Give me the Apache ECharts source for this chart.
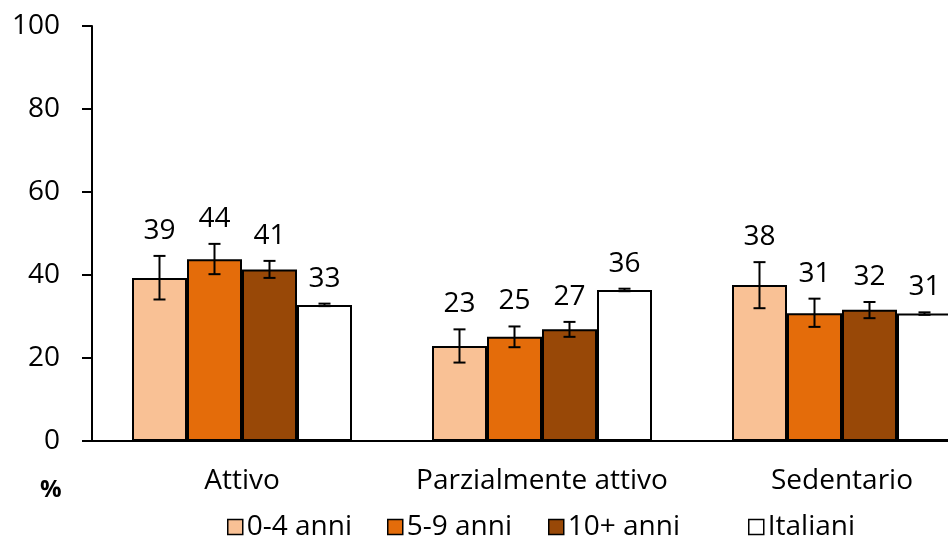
<!DOCTYPE html>
<html>
<head>
<meta charset="utf-8">
<script src="https://cdn.jsdelivr.net/npm/echarts@6/dist/echarts.min.js"></script>
<style>html,body{margin:0;padding:0;background:#fff;overflow:hidden;width:948px;height:540px}#c{width:1000px;height:540px}</style>
</head>
<body>
<div id="c"></div>
<script>
var categories = ['Attivo', 'Parzialmente attivo', 'Sedentario'];
var seriesNames = ['0-4 anni', '5-9 anni', '10+ anni', 'Italiani'];
var values04 = [39.3, 22.9, 37.6];
var values59 = [43.8, 25.1, 30.8];
var values10 = [41.3, 26.9, 31.6];
var valuesIt = [32.8, 36.4, 30.7];
var low04 = [34.1, 18.9, 32.0], high04 = [44.6, 26.9, 43.1];
var low59 = [40.2, 22.6, 27.5], high59 = [47.5, 27.6, 34.3];
var low10 = [39.3, 25.1, 29.6], high10 = [43.4, 28.7, 33.5];
var lowIt = [32.5, 36.1, 30.4], highIt = [33.1, 36.7, 31.0];
var yTicks = [0, 20, 40, 60, 80, 100];

var colors = ['#F9C195', '#E46C0A', '#984807', '#FFFFFF'];
var allValues = [values04, values59, values10, valuesIt];
var allLow = [low04, low59, low10, lowIt];
var allHigh = [high04, high59, high10, highIt];
var catGapPct = 80 / 300;
var legendLefts = [227, 387, 548, 748];

var chart = echarts.init(document.getElementById('c'));
var font = '"Open Sans", sans-serif';

var series = [];
seriesNames.forEach(function (name, i) {
  series.push({
    name: name,
    type: 'bar',
    data: allValues[i],
    barGap: '0%',
    barCategoryGap: (catGapPct * 100) + '%',
    itemStyle: { color: colors[i], borderColor: '#000', borderWidth: 2 },
    z: 2
  });
});

var errData = [];
seriesNames.forEach(function (name, i) {
  categories.forEach(function (c, j) {
    errData.push([j, allLow[i][j], allHigh[i][j], allValues[i][j], i]);
  });
});

series.push({
  type: 'custom',
  name: 'err',
  z: 5,
  clip: false,
  data: errData,
  encode: { x: 0, y: [1, 2] },
  renderItem: function (params, api) {
    var cat = api.value(0);
    var lo = api.value(1), hi = api.value(2), v = api.value(3), si = api.value(4);
    var catW = api.size([1, 0])[0];
    var groupW = catW * (1 - catGapPct);
    var bw = groupW / 4;
    var center = api.coord([cat, 0])[0];
    var x = center - groupW / 2 + bw * (si + 0.5);
    var yLo = api.coord([cat, lo])[1];
    var yHi = api.coord([cat, hi])[1];
    var cap = 6;
    var st = { stroke: '#000', lineWidth: 2 };
    return {
      type: 'group',
      children: [
        { type: 'line', shape: { x1: x, y1: yLo, x2: x, y2: yHi }, style: st },
        { type: 'line', shape: { x1: x - cap, y1: yLo, x2: x + cap, y2: yLo }, style: st },
        { type: 'line', shape: { x1: x - cap, y1: yHi, x2: x + cap, y2: yHi }, style: st },
        { type: 'text', style: { text: String(Math.round(v)), x: x, y: yHi - 25, align: 'center', verticalAlign: 'middle', font: '28px ' + font, fill: '#000' } }
      ]
    };
  }
});

var legends = seriesNames.map(function (name, i) {
  return {
    data: [name],
    left: legendLefts[i],
    top: 511,
    padding: 0,
    icon: 'rect',
    itemWidth: 15,
    itemHeight: 15,
    itemStyle: { borderColor: '#000', borderWidth: 1.5 },
    textStyle: { fontSize: 28, lineHeight: 32, fontFamily: font, color: '#000', padding: [0, 0, 0, -1] }
  };
});

chart.setOption({
  animation: false,
  grid: { left: 92, top: 26, height: 415, width: 900 },
  legend: legends,
  xAxis: {
    type: 'category',
    data: categories,
    axisLine: { lineStyle: { color: '#000', width: 2 } },
    axisTick: { show: false },
    axisLabel: { interval: 0, fontSize: 28, fontFamily: font, color: '#000', margin: 26 }
  },
  yAxis: {
    type: 'value',
    min: 0, max: 100, interval: 20,
    splitLine: { show: false },
    axisLine: { show: true, lineStyle: { color: '#000', width: 2 } },
    axisTick: { show: true, inside: false, length: 10, lineStyle: { color: '#000', width: 2 } },
    axisLabel: { fontSize: 28, fontFamily: font, color: '#000', margin: 32 }
  },
  graphic: [{
    type: 'text', left: 40, top: 478,
    style: { text: '%', font: 'bold 24px ' + font, fill: '#000' }
  }],
  series: series
});
</script>
</body>
</html>
